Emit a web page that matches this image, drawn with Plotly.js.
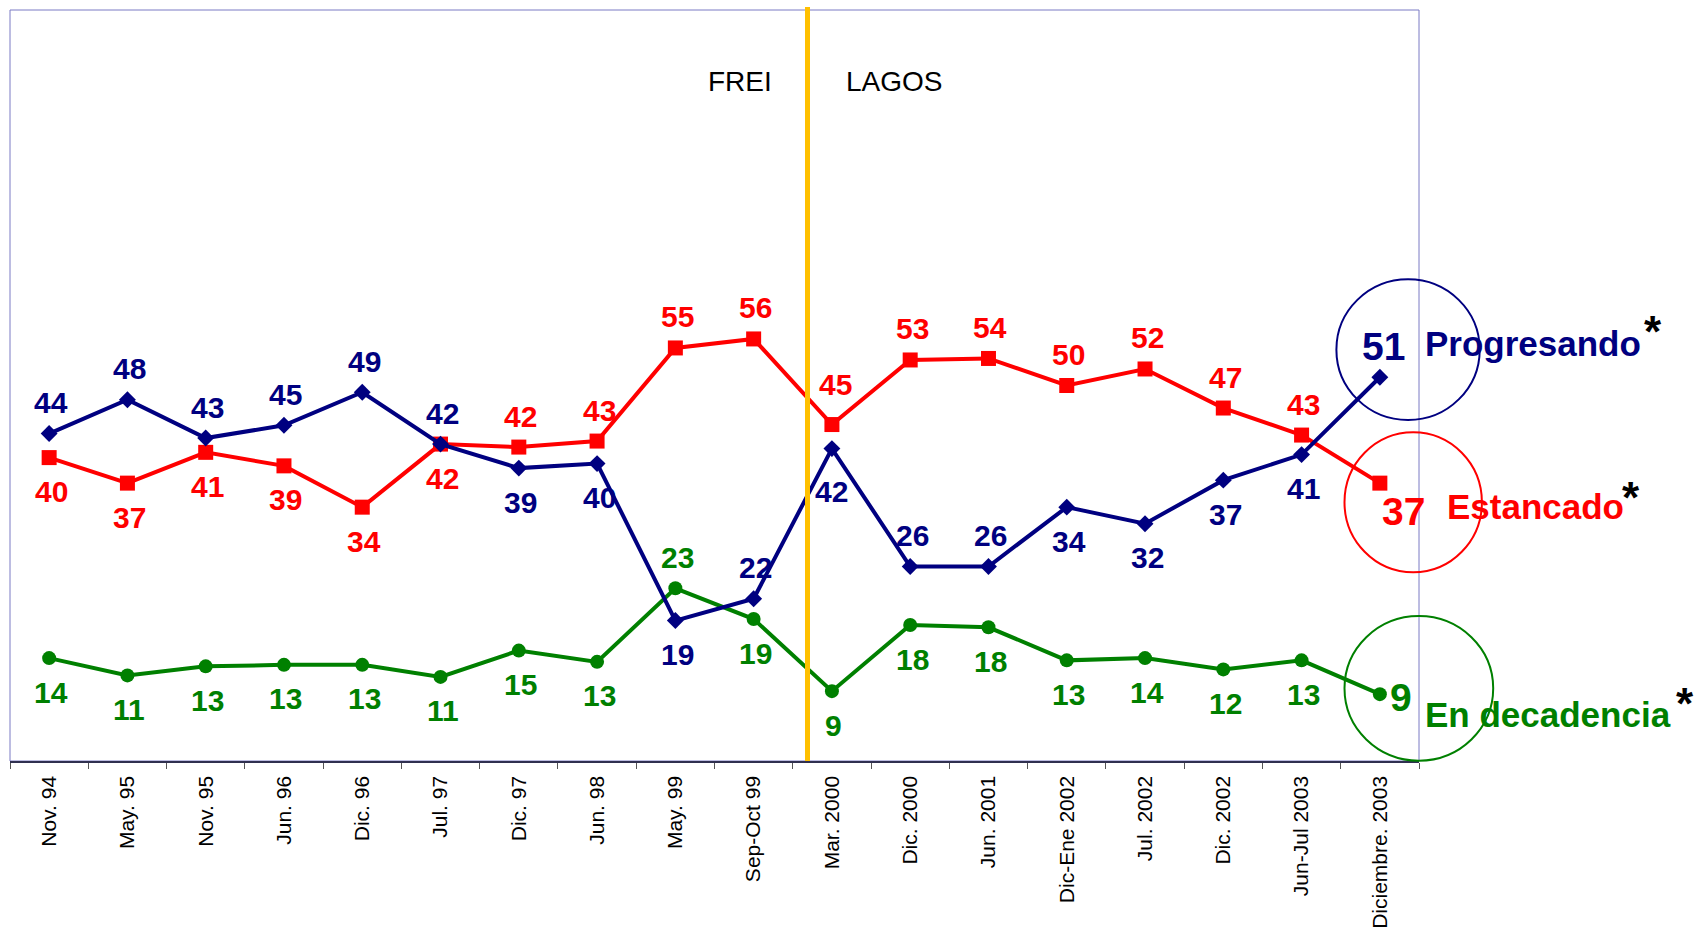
<!DOCTYPE html>
<html>
<head>
<meta charset="utf-8">
<script src="https://cdn.plot.ly/plotly-3.0.1.min.js"></script>
<style>
  html, body { margin: 0; padding: 0; background: #ffffff; }
  #chart { width: 1696px; height: 929px; }
</style>
</head>
<body>
<div id="chart"></div>
<script>
const categories = ["Nov. 94", "May. 95", "Nov. 95", "Jun. 96", "Dic. 96", "Jul. 97", "Dic. 97", "Jun. 98", "May. 99", "Sep-Oct 99", "Mar. 2000", "Dic. 2000", "Jun. 2001", "Dic-Ene 2002", "Jul. 2002", "Dic. 2002", "Jun-Jul 2003", "Diciembre. 2003"];
const progresando = [43.6, 48.1, 43.0, 44.7, 49.1, 42.2, 39.0, 39.6, 18.7, 21.6, 41.6, 25.9, 25.9, 33.8, 31.6, 37.4, 40.8, 51.1];
const estancado   = [40.4, 37.0, 41.1, 39.3, 33.8, 42.2, 41.8, 42.6, 55.0, 56.2, 44.8, 53.4, 53.6, 50.0, 52.2, 47.0, 43.4, 37.0];
const decadencia  = [13.7, 11.4, 12.6, 12.8, 12.8, 11.2, 14.7, 13.2, 23.0, 18.9, 9.3, 18.1, 17.8, 13.4, 13.7, 12.2, 13.4, 8.9];
const seriesNames = ["Progresando", "Estancado", "En decadencia"];
const periodLabels = ["FREI", "LAGOS"];

// ---- Label placement (a = above point, b = below point) ----
const placeProg = ["a","a","a","a","a","a","b","b","b","a","b","a","a","b","b","b","b","a"];
const placeEst  = ["b","b","b","b","b","b","a","a","a","a","a","a","a","a","a","a","a","b"];
const placeDec  = ["b","b","b","b","b","b","b","b","a","b","b","b","b","b","b","b","b","b"];
const SHIFT_UP = 31, SHIFT_DOWN = -34, SHIFT_X = 2;
// [xshift, yshift] overrides in pixels
const overrideProg = { 10: [0, -43], 17: [4, 31] };
const overrideEst  = { 10: [4, 40], 17: [24, -28] };
const overrideDec  = { 17: [21, -3] };

// ---- Layout geometry ----
const W = 1696, H = 929, ML = 10, MR = 277, MT = 10, MB = 168;
const PW = W - ML - MR, PH = H - MT - MB;
const px = X => (X - ML) / PW;
const py = Y => (H - MB - Y) / PH;

const NAVY = "#000080", RED = "#FF0000", GREEN = "#008000";
const FONT = "Arial, 'Liberation Sans', sans-serif";
const last = categories.length - 1;

function trace(name, vals, color, symbol, msize) {
  return {
    type: "scatter", mode: "lines+markers", name: name,
    x: categories, y: vals,
    line: { color: color, width: 4 },
    marker: { color: color, symbol: symbol, size: msize },
    cliponaxis: false,
    hoverinfo: "skip"
  };
}

const data = [
  trace(seriesNames[2], decadencia, GREEN, "circle", 14),
  trace(seriesNames[1], estancado, RED, "square", 15),
  trace(seriesNames[0], progresando, NAVY, "diamond", 13)
];

function valueLabels(vals, place, overrides, color) {
  return vals.map((v, i) => {
    const ov = overrides[i];
    return {
      xref: "x", yref: "y", x: categories[i], y: v,
      text: String(Math.round(v)), showarrow: false,
      xanchor: "center", yanchor: "middle",
      xshift: ov ? ov[0] : SHIFT_X,
      yshift: ov ? ov[1] : (place[i] === "a" ? SHIFT_UP : SHIFT_DOWN),
      font: { family: FONT, size: i === last ? 39 : 30, color: color, weight: "bold" }
    };
  });
}

const textAnn = [
  { text: periodLabels[0], x: px(740), y: py(82), xanchor: "center", yanchor: "middle", font: { family: FONT, size: 28, color: "#000000" } },
  { text: periodLabels[1], x: px(894), y: py(82), xanchor: "center", yanchor: "middle", font: { family: FONT, size: 28, color: "#000000" } },
  { text: seriesNames[0], x: px(1423), y: py(343), xanchor: "left", yanchor: "middle", font: { family: FONT, size: 35, color: NAVY, weight: "bold" } },
  { text: seriesNames[1], x: px(1445), y: py(506), xanchor: "left", yanchor: "middle", font: { family: FONT, size: 35, color: RED, weight: "bold" } },
  { text: seriesNames[2], x: px(1423), y: py(714), xanchor: "left", yanchor: "middle", font: { family: FONT, size: 35, color: GREEN, weight: "bold" } },
  { text: "*", x: px(1653), y: py(331), xanchor: "center", yanchor: "middle", font: { family: FONT, size: 44, color: "#000000", weight: "bold" } },
  { text: "*", x: px(1631), y: py(498), xanchor: "center", yanchor: "middle", font: { family: FONT, size: 44, color: "#000000", weight: "bold" } },
  { text: "*", x: px(1685), y: py(703), xanchor: "center", yanchor: "middle", font: { family: FONT, size: 44, color: "#000000", weight: "bold" } }
].map(a => Object.assign({ xref: "paper", yref: "paper", showarrow: false }, a));

const annotations = textAnn
  .concat(valueLabels(decadencia, placeDec, overrideDec, GREEN))
  .concat(valueLabels(estancado, placeEst, overrideEst, RED))
  .concat(valueLabels(progresando, placeProg, overrideProg, NAVY));

const shapes = [
  // plot frame
  { type: "rect", xref: "paper", yref: "paper", x0: 0, x1: 1, y0: 0, y1: 1, line: { color: "#7B7BC4", width: 1 }, layer: "below" },
  // FREI / LAGOS divider
  { type: "line", xref: "paper", yref: "paper", x0: px(807.5), x1: px(807.5), y0: 0, y1: py(7), line: { color: "#FFC000", width: 5 }, layer: "above" },
  // highlight ellipses
  { type: "circle", xref: "paper", yref: "paper", x0: px(1336.4), x1: px(1479.7), y0: py(420), y1: py(279.3), line: { color: NAVY, width: 2 } },
  { type: "circle", xref: "paper", yref: "paper", x0: px(1344.5), x1: px(1481.9), y0: py(572.3), y1: py(432.3), line: { color: RED, width: 2 } },
  { type: "circle", xref: "paper", yref: "paper", x0: px(1344.5), x1: px(1493.2), y0: py(760.7), y1: py(616), line: { color: GREEN, width: 2 } }
];

const layout = {
  width: W, height: H,
  margin: { l: ML, r: MR, t: MT, b: MB, pad: 0 },
  paper_bgcolor: "#ffffff", plot_bgcolor: "#ffffff",
  showlegend: false,
  hovermode: false,
  xaxis: {
    type: "category", range: [-0.5, categories.length - 0.5],
    tickson: "boundaries", ticks: "outside", ticklen: 6, tickwidth: 1, tickcolor: "#555555",
    showline: true, linecolor: "#303050", linewidth: 1.5,
    showgrid: false, zeroline: false,
    tickangle: -90, tickfont: { family: FONT, size: 21, color: "#000000" },
    ticklabelstandoff: 5,
    automargin: false, fixedrange: true
  },
  yaxis: {
    range: [0, 100], visible: false, showgrid: false, zeroline: false, fixedrange: true
  },
  annotations: annotations,
  shapes: shapes
};

Plotly.newPlot("chart", data, layout, { staticPlot: true, displayModeBar: false });
</script>
</body>
</html>
